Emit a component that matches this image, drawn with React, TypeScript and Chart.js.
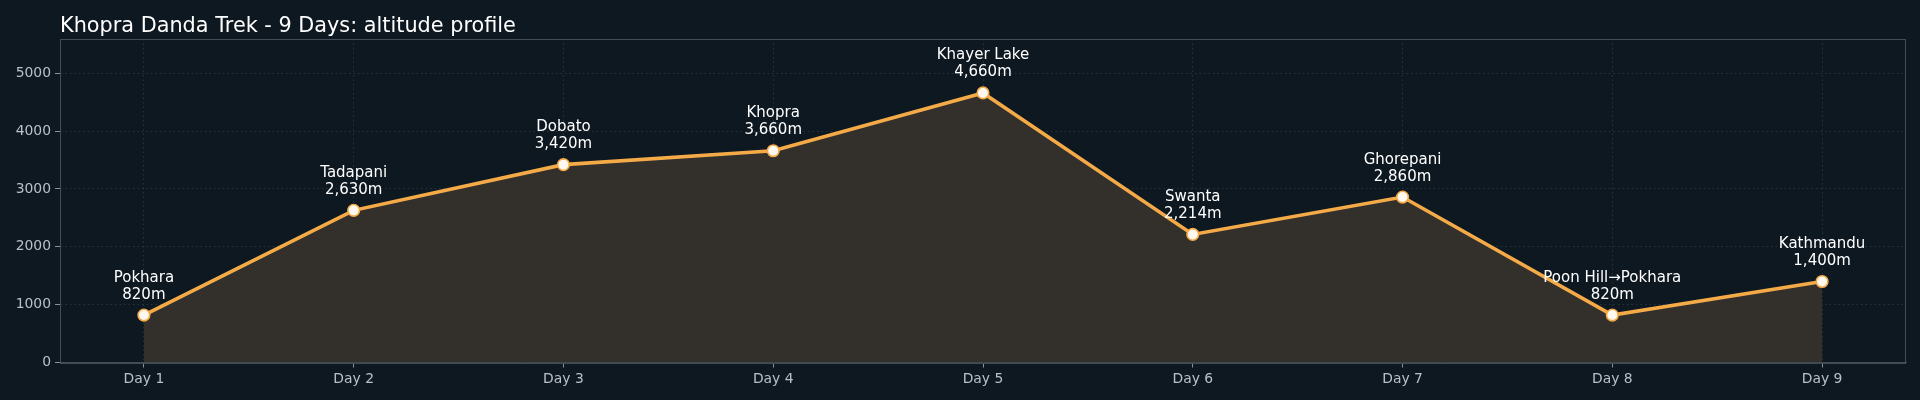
import React, { useEffect, useRef } from 'react';
import { Chart, registerables } from 'chart.js';

Chart.register(...registerables);

// Chart data
const days = ['Day 1', 'Day 2', 'Day 3', 'Day 4', 'Day 5', 'Day 6', 'Day 7', 'Day 8', 'Day 9'];
const places = ['Pokhara', 'Tadapani', 'Dobato', 'Khopra', 'Khayer Lake', 'Swanta', 'Ghorepani', 'Poon Hill→Pokhara', 'Kathmandu'];
const altitudes = [820, 2630, 3420, 3660, 4660, 2214, 2860, 820, 1400];
const yTicks = [0, 1000, 2000, 3000, 4000, 5000];
const title = 'Khopra Danda Trek - 9 Days: altitude profile';

const BG = '#0e1821';
const ORANGE = '#f5aa48';
const GRID = '#27343f';
const SPINE = '#434d58';
const TICK_TEXT = '#b9c0c8';
const FONT = '"DejaVu Sans", sans-serif';

// Draws frame, title and the per-point place/altitude annotations
const overlayPlugin = {
  id: 'overlay',
  afterDatasetsDraw(chart: any) {
    const { ctx } = chart;
    const meta = chart.getDatasetMeta(0);
    ctx.save();
    ctx.fillStyle = '#ffffff';
    ctx.font = `15px ${FONT}`;
    ctx.textAlign = 'center';
    ctx.textBaseline = 'alphabetic';
    meta.data.forEach((pt: any, i: number) => {
      const base = pt.y - 16.5;
      ctx.fillText(`${altitudes[i].toLocaleString('en-US')}m`, pt.x, base);
      ctx.fillText(places[i], pt.x, base - 17);
    });
    ctx.restore();
  },
  afterDraw(chart: any) {
    const { ctx, chartArea } = chart;
    ctx.save();
    ctx.strokeStyle = SPINE;
    ctx.lineWidth = 1;
    ctx.strokeRect(
      Math.round(chartArea.left) + 0.5,
      Math.round(chartArea.top) + 0.5,
      Math.round(chartArea.right - chartArea.left) - 1,
      Math.round(chartArea.bottom - chartArea.top)
    );
    ctx.fillStyle = '#ffffff';
    ctx.font = `20.8px ${FONT}`;
    ctx.textAlign = 'left';
    ctx.textBaseline = 'alphabetic';
    ctx.fillText(title, chartArea.left, 32);
    ctx.restore();
  },
};

const AltitudeChart: React.FC = () => {
  const canvasRef = useRef<HTMLCanvasElement>(null);

  useEffect(() => {
    if (!canvasRef.current) return;
    document.body.style.margin = '0';
    document.body.style.background = BG;

    const chart = new Chart(canvasRef.current, {
      type: 'line',
      data: {
        datasets: [{
          data: altitudes.map((a, i) => ({ x: i, y: a })),
          borderColor: ORANGE,
          borderWidth: 3.6,
          backgroundColor: '#33302c',
          fill: 'origin',
          tension: 0,
          pointRadius: 5.8,
          pointBackgroundColor: '#fff8ee',
          pointBorderColor: ORANGE,
          pointBorderWidth: 1.6,
        }],
      },
      options: {
        animation: false,
        responsive: true,
        maintainAspectRatio: false,
        layout: { padding: { top: 39, right: 14, left: 0, bottom: 0 } },
        plugins: { legend: { display: false }, title: { display: false }, tooltip: { enabled: false } },
        scales: {
          x: {
            type: 'linear',
            min: -0.4,
            max: 8.4,
            afterBuildTicks: (scale: any) => { scale.ticks = days.map((_, i) => ({ value: i })); },
            afterFit: (scale: any) => { scale.height = 37.5; },
            ticks: {
              autoSkip: false,
              maxRotation: 0,
              padding: 4,
              color: TICK_TEXT,
              font: { family: FONT, size: 13.9 },
              callback: (v: any) => days[v] ?? '',
            },
            grid: { color: GRID, tickColor: '#8a939c', tickLength: 5 },
            border: { color: SPINE, dash: [1.5, 3] },
          },
          y: {
            min: 0,
            max: 5592,
            afterBuildTicks: (scale: any) => { scale.ticks = yTicks.map((v) => ({ value: v })); },
            afterFit: (scale: any) => { scale.width = 60; },
            ticks: {
              padding: 4,
              color: TICK_TEXT,
              font: { family: FONT, size: 13.9 },
              callback: (v: any) => String(v),
            },
            grid: { color: GRID, tickColor: '#8a939c', tickLength: 5 },
            border: { color: SPINE, dash: [1.5, 3] },
          },
        },
      },
      plugins: [overlayPlugin],
    });

    return () => chart.destroy();
  }, []);

  return (
    <div style={{ width: 1920, height: 400, background: BG, position: 'relative' }}>
      <canvas ref={canvasRef} />
    </div>
  );
};

export default function App() {
  return <AltitudeChart />;
}
